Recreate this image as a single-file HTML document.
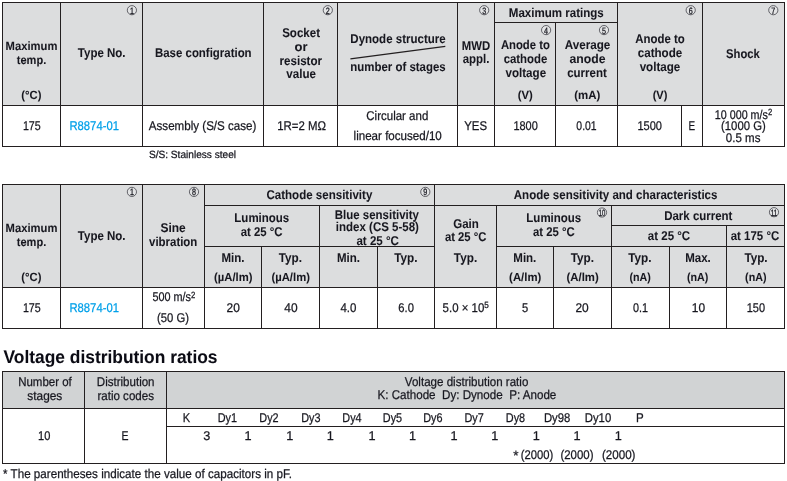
<!DOCTYPE html>
<html><head><meta charset="utf-8"><title>R8874-01 specifications</title>
<style>
html,body{margin:0;padding:0;background:#fff;}
body{width:787px;height:481px;overflow:hidden;}
svg{display:block;}
svg text{font-family:"Liberation Sans",sans-serif;fill:#17171f;stroke:#17171f;stroke-width:0.25px;white-space:pre;}
svg text[font-weight="bold"]{stroke-width:0.05px;}
.l{fill:#231f20;}
</style></head><body>
<svg width="787" height="481" viewBox="0 0 787 481" shape-rendering="crispEdges">
<g>
<rect x="2" y="2" width="783" height="103" fill="#dcddde"/>
<rect class="l" x="2" y="2" width="783" height="1"/>
<rect class="l" x="2" y="105" width="783" height="1"/>
<rect class="l" x="2" y="146" width="783" height="1"/>
<rect class="l" x="2" y="2" width="1" height="145"/>
<rect class="l" x="60" y="2" width="1" height="145"/>
<rect class="l" x="142" y="2" width="1" height="145"/>
<rect class="l" x="263" y="2" width="1" height="145"/>
<rect class="l" x="337" y="2" width="1" height="145"/>
<rect class="l" x="457" y="2" width="1" height="145"/>
<rect class="l" x="494" y="2" width="1" height="145"/>
<rect class="l" x="617" y="2" width="1" height="145"/>
<rect class="l" x="702" y="2" width="1" height="145"/>
<rect class="l" x="784" y="2" width="1" height="145"/>
<rect class="l" x="555" y="22" width="1" height="125"/>
<rect class="l" x="681" y="105" width="1" height="42"/>
<rect class="l" x="494" y="22" width="124" height="1"/>
<rect x="2" y="184" width="783" height="103" fill="#dcddde"/>
<rect class="l" x="2" y="184" width="783" height="1"/>
<rect class="l" x="2" y="287" width="783" height="1"/>
<rect class="l" x="2" y="328" width="783" height="1"/>
<rect class="l" x="2" y="184" width="1" height="145"/>
<rect class="l" x="60" y="184" width="1" height="145"/>
<rect class="l" x="142" y="184" width="1" height="145"/>
<rect class="l" x="204" y="184" width="1" height="145"/>
<rect class="l" x="434" y="184" width="1" height="145"/>
<rect class="l" x="784" y="184" width="1" height="145"/>
<rect class="l" x="204" y="205" width="581" height="1"/>
<rect class="l" x="319" y="205" width="1" height="124"/>
<rect class="l" x="496" y="205" width="1" height="124"/>
<rect class="l" x="611" y="205" width="1" height="124"/>
<rect class="l" x="726" y="225" width="1" height="104"/>
<rect class="l" x="611" y="225" width="174" height="1"/>
<rect class="l" x="204" y="246" width="230" height="1"/>
<rect class="l" x="496" y="246" width="289" height="1"/>
<rect class="l" x="261" y="246" width="1" height="83"/>
<rect class="l" x="377" y="246" width="1" height="83"/>
<rect class="l" x="553" y="246" width="1" height="83"/>
<rect class="l" x="669" y="246" width="1" height="83"/>
<rect x="2" y="371" width="783" height="37" fill="#d1d3d4"/>
<rect class="l" x="2" y="371" width="783" height="1"/>
<rect class="l" x="2" y="408" width="783" height="1"/>
<rect class="l" x="2" y="463" width="783" height="1"/>
<rect class="l" x="2" y="371" width="1" height="93"/>
<rect class="l" x="84" y="371" width="1" height="93"/>
<rect class="l" x="166" y="371" width="1" height="93"/>
<rect class="l" x="784" y="371" width="1" height="93"/>
<rect class="l" x="166" y="426" width="619" height="1"/>
</g>
<g shape-rendering="auto" text-rendering="geometricPrecision">
<line x1="350.4" y1="58.9" x2="445.3" y2="46.4" stroke="#231f20" stroke-width="1.15"/>
<circle cx="131.9" cy="10.2" r="4.6" fill="#e3e4e5" stroke="#4a4a52" stroke-width="0.85"/>
<text x="131.9" y="13.7" text-anchor="middle" font-size="9.2" style="fill:#1c1c24;stroke:#1c1c24;stroke-width:0.3px" textLength="4.0" lengthAdjust="spacingAndGlyphs">1</text>
<circle cx="327.8" cy="10.2" r="4.6" fill="#e3e4e5" stroke="#4a4a52" stroke-width="0.85"/>
<text x="327.8" y="13.7" text-anchor="middle" font-size="9.2" style="fill:#1c1c24;stroke:#1c1c24;stroke-width:0.3px" textLength="4.0" lengthAdjust="spacingAndGlyphs">2</text>
<circle cx="484.2" cy="10.2" r="4.6" fill="#e3e4e5" stroke="#4a4a52" stroke-width="0.85"/>
<text x="484.2" y="13.7" text-anchor="middle" font-size="9.2" style="fill:#1c1c24;stroke:#1c1c24;stroke-width:0.3px" textLength="4.0" lengthAdjust="spacingAndGlyphs">3</text>
<circle cx="546.1" cy="30.1" r="4.6" fill="#e3e4e5" stroke="#4a4a52" stroke-width="0.85"/>
<text x="546.1" y="33.5" text-anchor="middle" font-size="9.2" style="fill:#1c1c24;stroke:#1c1c24;stroke-width:0.3px" textLength="4.0" lengthAdjust="spacingAndGlyphs">4</text>
<circle cx="604.0" cy="30.1" r="4.6" fill="#e3e4e5" stroke="#4a4a52" stroke-width="0.85"/>
<text x="604.0" y="33.5" text-anchor="middle" font-size="9.2" style="fill:#1c1c24;stroke:#1c1c24;stroke-width:0.3px" textLength="4.0" lengthAdjust="spacingAndGlyphs">5</text>
<circle cx="690.7" cy="10.2" r="4.6" fill="#e3e4e5" stroke="#4a4a52" stroke-width="0.85"/>
<text x="690.7" y="13.7" text-anchor="middle" font-size="9.2" style="fill:#1c1c24;stroke:#1c1c24;stroke-width:0.3px" textLength="4.0" lengthAdjust="spacingAndGlyphs">6</text>
<circle cx="773.3" cy="10.2" r="4.6" fill="#e3e4e5" stroke="#4a4a52" stroke-width="0.85"/>
<text x="773.3" y="13.7" text-anchor="middle" font-size="9.2" style="fill:#1c1c24;stroke:#1c1c24;stroke-width:0.3px" textLength="4.0" lengthAdjust="spacingAndGlyphs">7</text>
<text x="31.5" y="50.3" text-anchor="middle" font-size="12" font-weight="bold" textLength="51.8" lengthAdjust="spacingAndGlyphs">Maximum</text>
<text x="31.5" y="63.5" text-anchor="middle" font-size="12" font-weight="bold" textLength="29.5" lengthAdjust="spacingAndGlyphs">temp.</text>
<text x="31.4" y="98.8" text-anchor="middle" font-size="11.8" font-weight="bold" textLength="20.1" lengthAdjust="spacingAndGlyphs">(°C)</text>
<text x="101.7" y="57.2" text-anchor="middle" font-size="12.7" font-weight="bold" textLength="47.7" lengthAdjust="spacingAndGlyphs">Type No.</text>
<text x="203.3" y="57.2" text-anchor="middle" font-size="12.7" font-weight="bold" textLength="96.6" lengthAdjust="spacingAndGlyphs">Base configration</text>
<text x="301.1" y="37.4" text-anchor="middle" font-size="12.7" font-weight="bold" textLength="37.9" lengthAdjust="spacingAndGlyphs">Socket</text>
<text x="301.0" y="50.8" text-anchor="middle" font-size="12.7" font-weight="bold" textLength="13.0" lengthAdjust="spacingAndGlyphs">or</text>
<text x="300.8" y="64.6" text-anchor="middle" font-size="12.7" font-weight="bold" textLength="42.5" lengthAdjust="spacingAndGlyphs">resistor</text>
<text x="301.2" y="77.8" text-anchor="middle" font-size="12.7" font-weight="bold" textLength="29.7" lengthAdjust="spacingAndGlyphs">value</text>
<text x="398.0" y="43.2" text-anchor="middle" font-size="12.7" font-weight="bold" textLength="95.3" lengthAdjust="spacingAndGlyphs">Dynode structure</text>
<text x="398.0" y="71.0" text-anchor="middle" font-size="12.7" font-weight="bold" textLength="95.3" lengthAdjust="spacingAndGlyphs">number of stages</text>
<text x="476.0" y="50.1" text-anchor="middle" font-size="12.7" font-weight="bold" textLength="28.4" lengthAdjust="spacingAndGlyphs">MWD</text>
<text x="476.1" y="63.2" text-anchor="middle" font-size="12.7" font-weight="bold" textLength="26.7" lengthAdjust="spacingAndGlyphs">appl.</text>
<text x="556.3" y="16.5" text-anchor="middle" font-size="12.7" font-weight="bold" textLength="95.0" lengthAdjust="spacingAndGlyphs">Maximum ratings</text>
<text x="525.4" y="49.0" text-anchor="middle" font-size="12.7" font-weight="bold" textLength="49.0" lengthAdjust="spacingAndGlyphs">Anode to</text>
<text x="525.5" y="62.8" text-anchor="middle" font-size="12.7" font-weight="bold" textLength="43.7" lengthAdjust="spacingAndGlyphs">cathode</text>
<text x="525.8" y="76.9" text-anchor="middle" font-size="12.7" font-weight="bold" textLength="40.6" lengthAdjust="spacingAndGlyphs">voltage</text>
<text x="525.2" y="98.6" text-anchor="middle" font-size="11.8" font-weight="bold" textLength="15.0" lengthAdjust="spacingAndGlyphs">(V)</text>
<text x="587.5" y="49.0" text-anchor="middle" font-size="12.7" font-weight="bold" textLength="45.7" lengthAdjust="spacingAndGlyphs">Average</text>
<text x="587.5" y="62.8" text-anchor="middle" font-size="12.7" font-weight="bold" textLength="36.0" lengthAdjust="spacingAndGlyphs">anode</text>
<text x="587.0" y="76.9" text-anchor="middle" font-size="12.7" font-weight="bold" textLength="39.6" lengthAdjust="spacingAndGlyphs">current</text>
<text x="587.2" y="98.6" text-anchor="middle" font-size="11.8" font-weight="bold" textLength="26.1" lengthAdjust="spacingAndGlyphs">(mA)</text>
<text x="660.0" y="42.6" text-anchor="middle" font-size="12.7" font-weight="bold" textLength="49.5" lengthAdjust="spacingAndGlyphs">Anode to</text>
<text x="660.0" y="56.7" text-anchor="middle" font-size="12.7" font-weight="bold" textLength="44.5" lengthAdjust="spacingAndGlyphs">cathode</text>
<text x="660.0" y="70.5" text-anchor="middle" font-size="12.7" font-weight="bold" textLength="40.7" lengthAdjust="spacingAndGlyphs">voltage</text>
<text x="660.0" y="98.6" text-anchor="middle" font-size="11.8" font-weight="bold" textLength="14.7" lengthAdjust="spacingAndGlyphs">(V)</text>
<text x="742.9" y="57.5" text-anchor="middle" font-size="12.7" font-weight="bold" textLength="33.8" lengthAdjust="spacingAndGlyphs">Shock</text>
<text x="31.8" y="130.0" text-anchor="middle" font-size="12.7" textLength="17.8" lengthAdjust="spacingAndGlyphs">175</text>
<text x="94.2" y="130.0" text-anchor="middle" font-size="12.7" style="fill:#00a0e9;stroke:#00a0e9" textLength="49.5" lengthAdjust="spacingAndGlyphs">R8874-01</text>
<text x="202.6" y="130.0" text-anchor="middle" font-size="12.7" textLength="107.5" lengthAdjust="spacingAndGlyphs">Assembly (S/S case)</text>
<text x="301.6" y="130.0" text-anchor="middle" font-size="12.7" textLength="48.8" lengthAdjust="spacingAndGlyphs">1R=2 MΩ</text>
<text x="397.3" y="119.8" text-anchor="middle" font-size="12.7" textLength="62.0" lengthAdjust="spacingAndGlyphs">Circular and</text>
<text x="397.7" y="140.2" text-anchor="middle" font-size="12.7" textLength="88.2" lengthAdjust="spacingAndGlyphs">linear focused/10</text>
<text x="475.6" y="130.0" text-anchor="middle" font-size="12.7" textLength="22.8" lengthAdjust="spacingAndGlyphs">YES</text>
<text x="525.6" y="130.0" text-anchor="middle" font-size="12.7" textLength="24.4" lengthAdjust="spacingAndGlyphs">1800</text>
<text x="586.5" y="130.0" text-anchor="middle" font-size="12.7" textLength="20.3" lengthAdjust="spacingAndGlyphs">0.01</text>
<text x="649.7" y="130.0" text-anchor="middle" font-size="12.7" textLength="24.6" lengthAdjust="spacingAndGlyphs">1500</text>
<text x="691.9" y="130.0" text-anchor="middle" font-size="12.7" textLength="6.6" lengthAdjust="spacingAndGlyphs">E</text>
<text x="743.5" y="118.6" text-anchor="middle" font-size="12.7" textLength="57.3" lengthAdjust="spacingAndGlyphs">10 000 m/s<tspan dy="-3.7" font-size="9">2</tspan></text>
<text x="743.4" y="129.9" text-anchor="middle" font-size="12.7" textLength="44.7" lengthAdjust="spacingAndGlyphs">(1000 G)</text>
<text x="743.1" y="142.0" text-anchor="middle" font-size="12.7" textLength="34.6" lengthAdjust="spacingAndGlyphs">0.5 ms</text>
<text x="192.5" y="157.6" text-anchor="middle" font-size="10.5" textLength="87.2" lengthAdjust="spacingAndGlyphs">S/S: Stainless steel</text>
<circle cx="131.9" cy="191.9" r="4.6" fill="#e3e4e5" stroke="#4a4a52" stroke-width="0.85"/>
<text x="131.9" y="195.3" text-anchor="middle" font-size="9.2" style="fill:#1c1c24;stroke:#1c1c24;stroke-width:0.3px" textLength="4.0" lengthAdjust="spacingAndGlyphs">1</text>
<circle cx="194.0" cy="191.9" r="4.6" fill="#e3e4e5" stroke="#4a4a52" stroke-width="0.85"/>
<text x="194.0" y="195.3" text-anchor="middle" font-size="9.2" style="fill:#1c1c24;stroke:#1c1c24;stroke-width:0.3px" textLength="4.0" lengthAdjust="spacingAndGlyphs">8</text>
<circle cx="425.3" cy="191.9" r="4.6" fill="#e3e4e5" stroke="#4a4a52" stroke-width="0.85"/>
<text x="425.3" y="195.3" text-anchor="middle" font-size="9.2" style="fill:#1c1c24;stroke:#1c1c24;stroke-width:0.3px" textLength="4.0" lengthAdjust="spacingAndGlyphs">9</text>
<circle cx="602.0" cy="212.5" r="4.6" fill="#e3e4e5" stroke="#4a4a52" stroke-width="0.85"/>
<text x="602.0" y="215.9" text-anchor="middle" font-size="9.2" style="fill:#1c1c24;stroke:#1c1c24;stroke-width:0.3px" textLength="6.6" lengthAdjust="spacingAndGlyphs">10</text>
<circle cx="774.0" cy="212.2" r="4.6" fill="#e3e4e5" stroke="#4a4a52" stroke-width="0.85"/>
<text x="774.0" y="215.7" text-anchor="middle" font-size="9.2" style="fill:#1c1c24;stroke:#1c1c24;stroke-width:0.3px" textLength="6.6" lengthAdjust="spacingAndGlyphs">11</text>
<text x="31.5" y="232.0" text-anchor="middle" font-size="12" font-weight="bold" textLength="51.8" lengthAdjust="spacingAndGlyphs">Maximum</text>
<text x="31.5" y="246.0" text-anchor="middle" font-size="12" font-weight="bold" textLength="29.5" lengthAdjust="spacingAndGlyphs">temp.</text>
<text x="31.4" y="281.0" text-anchor="middle" font-size="11.8" font-weight="bold" textLength="20.1" lengthAdjust="spacingAndGlyphs">(°C)</text>
<text x="101.7" y="240.0" text-anchor="middle" font-size="12.7" font-weight="bold" textLength="47.7" lengthAdjust="spacingAndGlyphs">Type No.</text>
<text x="173.1" y="232.0" text-anchor="middle" font-size="12.7" font-weight="bold" textLength="25.3" lengthAdjust="spacingAndGlyphs">Sine</text>
<text x="173.2" y="246.0" text-anchor="middle" font-size="12.7" font-weight="bold" textLength="48.3" lengthAdjust="spacingAndGlyphs">vibration</text>
<text x="319.4" y="199.0" text-anchor="middle" font-size="12.7" font-weight="bold" textLength="105.9" lengthAdjust="spacingAndGlyphs">Cathode sensitivity</text>
<text x="615.6" y="199.0" text-anchor="middle" font-size="12.7" font-weight="bold" textLength="203.6" lengthAdjust="spacingAndGlyphs">Anode sensitivity and characteristics</text>
<text x="261.8" y="221.6" text-anchor="middle" font-size="12.7" font-weight="bold" textLength="54.9" lengthAdjust="spacingAndGlyphs">Luminous</text>
<text x="261.6" y="235.6" text-anchor="middle" font-size="12.7" font-weight="bold" textLength="41.9" lengthAdjust="spacingAndGlyphs">at 25 °C</text>
<text x="376.9" y="218.9" text-anchor="middle" font-size="12.7" font-weight="bold" textLength="84.1" lengthAdjust="spacingAndGlyphs">Blue sensitivity</text>
<text x="377.4" y="231.0" text-anchor="middle" font-size="12.7" font-weight="bold" textLength="83.1" lengthAdjust="spacingAndGlyphs">index (CS 5-58)</text>
<text x="377.7" y="245.0" text-anchor="middle" font-size="12.7" font-weight="bold" textLength="42.6" lengthAdjust="spacingAndGlyphs">at 25 °C</text>
<text x="466.0" y="227.6" text-anchor="middle" font-size="12.7" font-weight="bold" textLength="25.6" lengthAdjust="spacingAndGlyphs">Gain</text>
<text x="465.7" y="240.6" text-anchor="middle" font-size="12.7" font-weight="bold" textLength="41.6" lengthAdjust="spacingAndGlyphs">at 25 °C</text>
<text x="465.5" y="261.5" text-anchor="middle" font-size="12.7" font-weight="bold" textLength="23.3" lengthAdjust="spacingAndGlyphs">Typ.</text>
<text x="553.8" y="221.6" text-anchor="middle" font-size="12.7" font-weight="bold" textLength="54.9" lengthAdjust="spacingAndGlyphs">Luminous</text>
<text x="553.9" y="235.6" text-anchor="middle" font-size="12.7" font-weight="bold" textLength="41.7" lengthAdjust="spacingAndGlyphs">at 25 °C</text>
<text x="698.3" y="219.9" text-anchor="middle" font-size="12.7" font-weight="bold" textLength="68.2" lengthAdjust="spacingAndGlyphs">Dark current</text>
<text x="669.0" y="240.0" text-anchor="middle" font-size="12.7" font-weight="bold" textLength="42.3" lengthAdjust="spacingAndGlyphs">at 25 °C</text>
<text x="755.0" y="240.0" text-anchor="middle" font-size="12.7" font-weight="bold" textLength="48.5" lengthAdjust="spacingAndGlyphs">at 175 °C</text>
<text x="232.9" y="261.5" text-anchor="middle" font-size="12.7" font-weight="bold" textLength="23.0" lengthAdjust="spacingAndGlyphs">Min.</text>
<text x="348.4" y="261.5" text-anchor="middle" font-size="12.7" font-weight="bold" textLength="23.0" lengthAdjust="spacingAndGlyphs">Min.</text>
<text x="524.8" y="261.5" text-anchor="middle" font-size="12.7" font-weight="bold" textLength="23.0" lengthAdjust="spacingAndGlyphs">Min.</text>
<text x="290.4" y="261.5" text-anchor="middle" font-size="12.7" font-weight="bold" textLength="23.2" lengthAdjust="spacingAndGlyphs">Typ.</text>
<text x="405.8" y="261.5" text-anchor="middle" font-size="12.7" font-weight="bold" textLength="23.2" lengthAdjust="spacingAndGlyphs">Typ.</text>
<text x="582.3" y="261.5" text-anchor="middle" font-size="12.7" font-weight="bold" textLength="23.2" lengthAdjust="spacingAndGlyphs">Typ.</text>
<text x="639.9" y="261.5" text-anchor="middle" font-size="12.7" font-weight="bold" textLength="23.2" lengthAdjust="spacingAndGlyphs">Typ.</text>
<text x="756.0" y="261.5" text-anchor="middle" font-size="12.7" font-weight="bold" textLength="23.2" lengthAdjust="spacingAndGlyphs">Typ.</text>
<text x="698.0" y="261.5" text-anchor="middle" font-size="12.7" font-weight="bold" textLength="25.6" lengthAdjust="spacingAndGlyphs">Max.</text>
<text x="233.3" y="281.0" text-anchor="middle" font-size="11.6" font-weight="bold" textLength="38.4" lengthAdjust="spacingAndGlyphs">(µA/lm)</text>
<text x="290.7" y="281.0" text-anchor="middle" font-size="11.6" font-weight="bold" textLength="38.4" lengthAdjust="spacingAndGlyphs">(µA/lm)</text>
<text x="525.2" y="281.0" text-anchor="middle" font-size="11.6" font-weight="bold" textLength="32.2" lengthAdjust="spacingAndGlyphs">(A/lm)</text>
<text x="582.6" y="281.0" text-anchor="middle" font-size="11.6" font-weight="bold" textLength="32.2" lengthAdjust="spacingAndGlyphs">(A/lm)</text>
<text x="640.2" y="281.0" text-anchor="middle" font-size="11.6" font-weight="bold" textLength="21.4" lengthAdjust="spacingAndGlyphs">(nA)</text>
<text x="697.6" y="281.0" text-anchor="middle" font-size="11.6" font-weight="bold" textLength="21.4" lengthAdjust="spacingAndGlyphs">(nA)</text>
<text x="755.8" y="281.0" text-anchor="middle" font-size="11.6" font-weight="bold" textLength="21.4" lengthAdjust="spacingAndGlyphs">(nA)</text>
<text x="31.8" y="312.0" text-anchor="middle" font-size="12.7" textLength="17.8" lengthAdjust="spacingAndGlyphs">175</text>
<text x="94.2" y="312.0" text-anchor="middle" font-size="12.7" style="fill:#00a0e9;stroke:#00a0e9" textLength="49.5" lengthAdjust="spacingAndGlyphs">R8874-01</text>
<text x="173.9" y="301.4" text-anchor="middle" font-size="12.7" textLength="42.9" lengthAdjust="spacingAndGlyphs">500 m/s<tspan dy="-3.7" font-size="9">2</tspan></text>
<text x="173.0" y="322.4" text-anchor="middle" font-size="12.7" textLength="32.0" lengthAdjust="spacingAndGlyphs">(50 G)</text>
<text x="233.2" y="312.0" text-anchor="middle" font-size="12.7" textLength="13.3" lengthAdjust="spacingAndGlyphs">20</text>
<text x="290.9" y="312.0" text-anchor="middle" font-size="12.7" textLength="13.3" lengthAdjust="spacingAndGlyphs">40</text>
<text x="348.4" y="312.0" text-anchor="middle" font-size="12.7" textLength="16.0" lengthAdjust="spacingAndGlyphs">4.0</text>
<text x="406.1" y="312.0" text-anchor="middle" font-size="12.7" textLength="15.6" lengthAdjust="spacingAndGlyphs">6.0</text>
<text x="465.7" y="312.0" text-anchor="middle" font-size="12.7" textLength="46.2" lengthAdjust="spacingAndGlyphs">5.0 × 10<tspan dy="-3.7" font-size="9">5</tspan></text>
<text x="525.1" y="312.0" text-anchor="middle" font-size="12.7" textLength="6.2" lengthAdjust="spacingAndGlyphs">5</text>
<text x="582.1" y="312.0" text-anchor="middle" font-size="12.7" textLength="13.3" lengthAdjust="spacingAndGlyphs">20</text>
<text x="640.4" y="312.0" text-anchor="middle" font-size="12.7" textLength="15.0" lengthAdjust="spacingAndGlyphs">0.1</text>
<text x="698.5" y="312.0" text-anchor="middle" font-size="12.7" textLength="13.3" lengthAdjust="spacingAndGlyphs">10</text>
<text x="755.9" y="312.0" text-anchor="middle" font-size="12.7" textLength="18.3" lengthAdjust="spacingAndGlyphs">150</text>
<text x="3.5" y="363.3" text-anchor="start" font-size="18" font-weight="bold" style="fill:#0b0b14;stroke:#0b0b14" textLength="214.0" lengthAdjust="spacingAndGlyphs">Voltage distribution ratios</text>
<text x="45.0" y="386.3" text-anchor="middle" font-size="12.7" textLength="53.6" lengthAdjust="spacingAndGlyphs">Number of</text>
<text x="44.8" y="399.6" text-anchor="middle" font-size="12.7" textLength="34.9" lengthAdjust="spacingAndGlyphs">stages</text>
<text x="125.7" y="386.3" text-anchor="middle" font-size="12.7" textLength="57.7" lengthAdjust="spacingAndGlyphs">Distribution</text>
<text x="125.7" y="399.6" text-anchor="middle" font-size="12.7" textLength="56.6" lengthAdjust="spacingAndGlyphs">ratio codes</text>
<text x="466.6" y="385.5" text-anchor="middle" font-size="12.7" textLength="123.5" lengthAdjust="spacingAndGlyphs">Voltage distribution ratio</text>
<text x="466.9" y="399.4" text-anchor="middle" font-size="12.7" textLength="178.9" lengthAdjust="spacingAndGlyphs">K: Cathode  Dy: Dynode  P: Anode</text>
<text x="44.2" y="439.8" text-anchor="middle" font-size="12.7" textLength="12.3" lengthAdjust="spacingAndGlyphs">10</text>
<text x="125.0" y="439.8" text-anchor="middle" font-size="12.7" textLength="7.0" lengthAdjust="spacingAndGlyphs">E</text>
<text x="186.5" y="421.6" text-anchor="middle" font-size="12.7" textLength="7.4" lengthAdjust="spacingAndGlyphs">K</text>
<text x="227.3" y="421.6" text-anchor="middle" font-size="12.7" textLength="19.3" lengthAdjust="spacingAndGlyphs">Dy1</text>
<text x="269.0" y="421.6" text-anchor="middle" font-size="12.7" textLength="19.3" lengthAdjust="spacingAndGlyphs">Dy2</text>
<text x="310.8" y="421.6" text-anchor="middle" font-size="12.7" textLength="19.3" lengthAdjust="spacingAndGlyphs">Dy3</text>
<text x="352.0" y="421.6" text-anchor="middle" font-size="12.7" textLength="19.3" lengthAdjust="spacingAndGlyphs">Dy4</text>
<text x="392.5" y="421.6" text-anchor="middle" font-size="12.7" textLength="19.3" lengthAdjust="spacingAndGlyphs">Dy5</text>
<text x="432.8" y="421.6" text-anchor="middle" font-size="12.7" textLength="19.3" lengthAdjust="spacingAndGlyphs">Dy6</text>
<text x="474.1" y="421.6" text-anchor="middle" font-size="12.7" textLength="19.3" lengthAdjust="spacingAndGlyphs">Dy7</text>
<text x="515.5" y="421.6" text-anchor="middle" font-size="12.7" textLength="19.3" lengthAdjust="spacingAndGlyphs">Dy8</text>
<text x="557.1" y="421.6" text-anchor="middle" font-size="12.7" textLength="26.4" lengthAdjust="spacingAndGlyphs">Dy98</text>
<text x="598.0" y="421.6" text-anchor="middle" font-size="12.7" textLength="26.4" lengthAdjust="spacingAndGlyphs">Dy10</text>
<text x="639.9" y="421.6" text-anchor="middle" font-size="12.7" textLength="7.7" lengthAdjust="spacingAndGlyphs">P</text>
<text x="206.9" y="439.8" text-anchor="middle" font-size="12.7">3</text>
<text x="248.0" y="439.8" text-anchor="middle" font-size="12.7">1</text>
<text x="289.7" y="439.8" text-anchor="middle" font-size="12.7">1</text>
<text x="330.4" y="439.8" text-anchor="middle" font-size="12.7">1</text>
<text x="372.0" y="439.8" text-anchor="middle" font-size="12.7">1</text>
<text x="412.6" y="439.8" text-anchor="middle" font-size="12.7">1</text>
<text x="454.0" y="439.8" text-anchor="middle" font-size="12.7">1</text>
<text x="494.8" y="439.8" text-anchor="middle" font-size="12.7">1</text>
<text x="536.2" y="439.8" text-anchor="middle" font-size="12.7">1</text>
<text x="577.0" y="439.8" text-anchor="middle" font-size="12.7">1</text>
<text x="618.4" y="439.8" text-anchor="middle" font-size="12.7">1</text>
<text x="513.2" y="459.6" text-anchor="start" font-size="13.5">*</text>
<text x="537.0" y="458.6" text-anchor="middle" font-size="12.7" textLength="32.5" lengthAdjust="spacingAndGlyphs">(2000)</text>
<text x="577.0" y="458.6" text-anchor="middle" font-size="12.7" textLength="33.1" lengthAdjust="spacingAndGlyphs">(2000)</text>
<text x="618.7" y="458.6" text-anchor="middle" font-size="12.7" textLength="33.6" lengthAdjust="spacingAndGlyphs">(2000)</text>
<text x="3.0" y="478.0" text-anchor="start" font-size="12.7" textLength="289.0" lengthAdjust="spacingAndGlyphs">* The parentheses indicate the value of capacitors in pF.</text>
</g>
</svg>
</body></html>
